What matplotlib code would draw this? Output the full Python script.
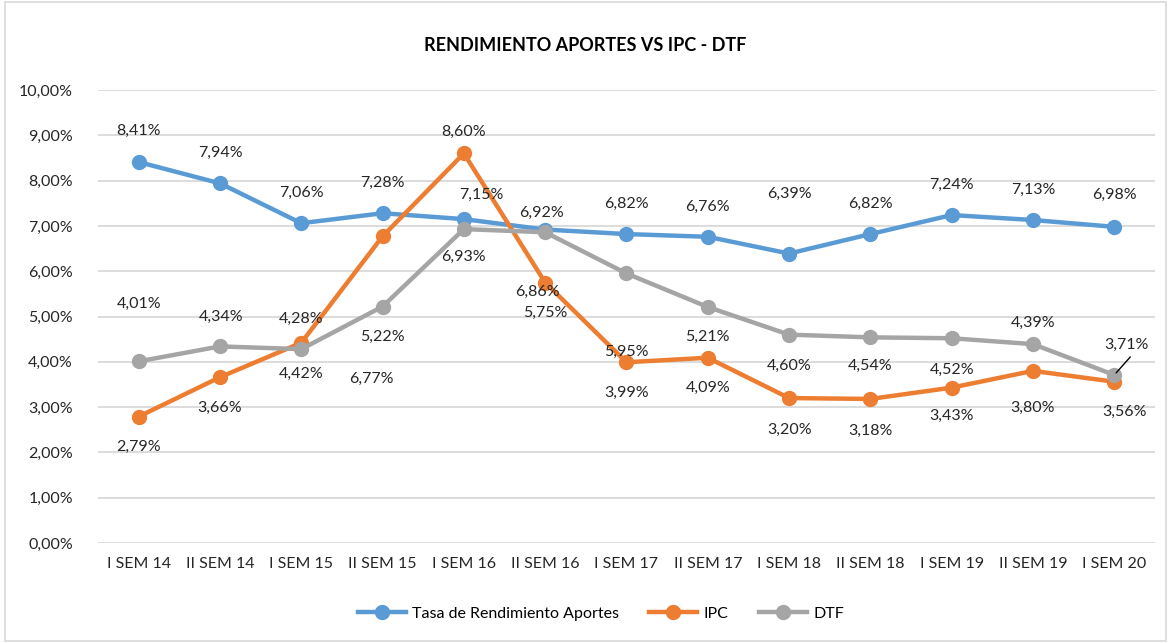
import matplotlib.pyplot as plt
from matplotlib.lines import Line2D

categories = ['I SEM 14', 'II SEM 14', 'I SEM 15', 'II SEM 15', 'I SEM 16', 'II SEM 16',
              'I SEM 17', 'II SEM 17', 'I SEM 18', 'II SEM 18', 'I SEM 19', 'II SEM 19', 'I SEM 20']
rendimiento = [8.41, 7.94, 7.06, 7.28, 7.15, 6.92, 6.82, 6.76, 6.39, 6.82, 7.24, 7.13, 6.98]
ipc = [2.79, 3.66, 4.42, 6.77, 8.60, 5.75, 3.99, 4.09, 3.20, 3.18, 3.43, 3.80, 3.56]
dtf = [4.01, 4.34, 4.28, 5.22, 6.93, 6.86, 5.95, 5.21, 4.60, 4.54, 4.52, 4.39, 3.71]

# label offsets in pixels (dx, dy), positive dy = up
off_rend = [(0, 31), (0, 30), (0, 30), (0, 30), (17, 24), (-4, 17), (0, 30), (0, 30),
            (0, 60), (0, 30), (0, 30), (0, 30), (0, 32)]
off_ipc = [(0, -30), (0, -31), (0, -31), (-11, -143), (0, 22), (0, -30), (0, -31), (0, -30),
           (0, -32), (0, -32), (0, -28), (0, -37), (10, -30)]
off_dtf = [(0, 57), (1, 30), (0, 30), (0, -30), (0, -28), (-8, -60), (0, -78), (0, -30),
           (0, -31), (0, -29), (0, -32), (0, 21), (12, 30)]

BLUE = '#5B9BD5'
ORANGE = '#ED7D31'
GREY = '#A5A5A5'

plt.rcParams['font.family'] = ['Lato', 'DejaVu Sans']

fig = plt.figure(figsize=(11.71, 6.43), dpi=100)
ax = fig.add_axes([0.0837, 0.1555, 0.9026, 0.7045])

x = list(range(len(categories)))
for vals, col in [(rendimiento, BLUE), (ipc, ORANGE), (dtf, GREY)]:
    ax.plot(x, vals, color=col, lw=3.2, marker='o', ms=10, zorder=3, solid_capstyle='round')

def fmt(v):
    return f'{v:.2f}%'.replace('.', ',')

for vals, offs in [(rendimiento, off_rend), (ipc, off_ipc), (dtf, off_dtf)]:
    for i, (v, o) in enumerate(zip(vals, offs)):
        ax.annotate(fmt(v), (i, v), xytext=o, textcoords='offset pixels',
                    ha='center', va='center', fontsize=11.5, color='#262626', zorder=5)

# leader line for last DTF label
ax.annotate('', (12, dtf[12]), xytext=(16, 18), textcoords='offset pixels',
            arrowprops=dict(arrowstyle='-', color='black', lw=1, shrinkA=0, shrinkB=2))

ax.set_xlim(-0.5, len(categories) - 0.5)
ax.set_ylim(0, 10)
ax.set_yticks(range(0, 11))
ax.set_yticklabels([fmt(t) for t in range(0, 11)])
ax.set_xticks(x)
ax.set_xticklabels(categories)
ax.tick_params(length=0, labelsize=11.5, colors='#262626', pad=10)
ax.tick_params(axis='y', pad=18)
ax.grid(axis='y', color='#D9D9D9', lw=1.3)
ax.set_axisbelow(True)
for s in ax.spines.values():
    s.set_visible(False)

fig.text(0.5, 0.93, 'RENDIMIENTO APORTES VS IPC - DTF', ha='center', va='center',
         fontsize=13, fontweight='bold', color='black')

handles = [Line2D([], [], color=c, lw=3.2, marker='o', ms=10) for c in (BLUE, ORANGE, GREY)]
fig.legend(handles, ['Tasa de Rendimiento Aportes', 'IPC', 'DTF'], loc='center',
           bbox_to_anchor=(0.513, 0.046), ncol=3, frameon=False, fontsize=11.5,
           handlelength=3.0, columnspacing=1.9, handletextpad=0.4)

border = plt.Rectangle((0.004, 0.003), 0.992, 0.994, transform=fig.transFigure,
                       fill=False, edgecolor='#D9D9D9', lw=1.2)
fig.patches.append(border)

fig.savefig('out.png', dpi=100)
